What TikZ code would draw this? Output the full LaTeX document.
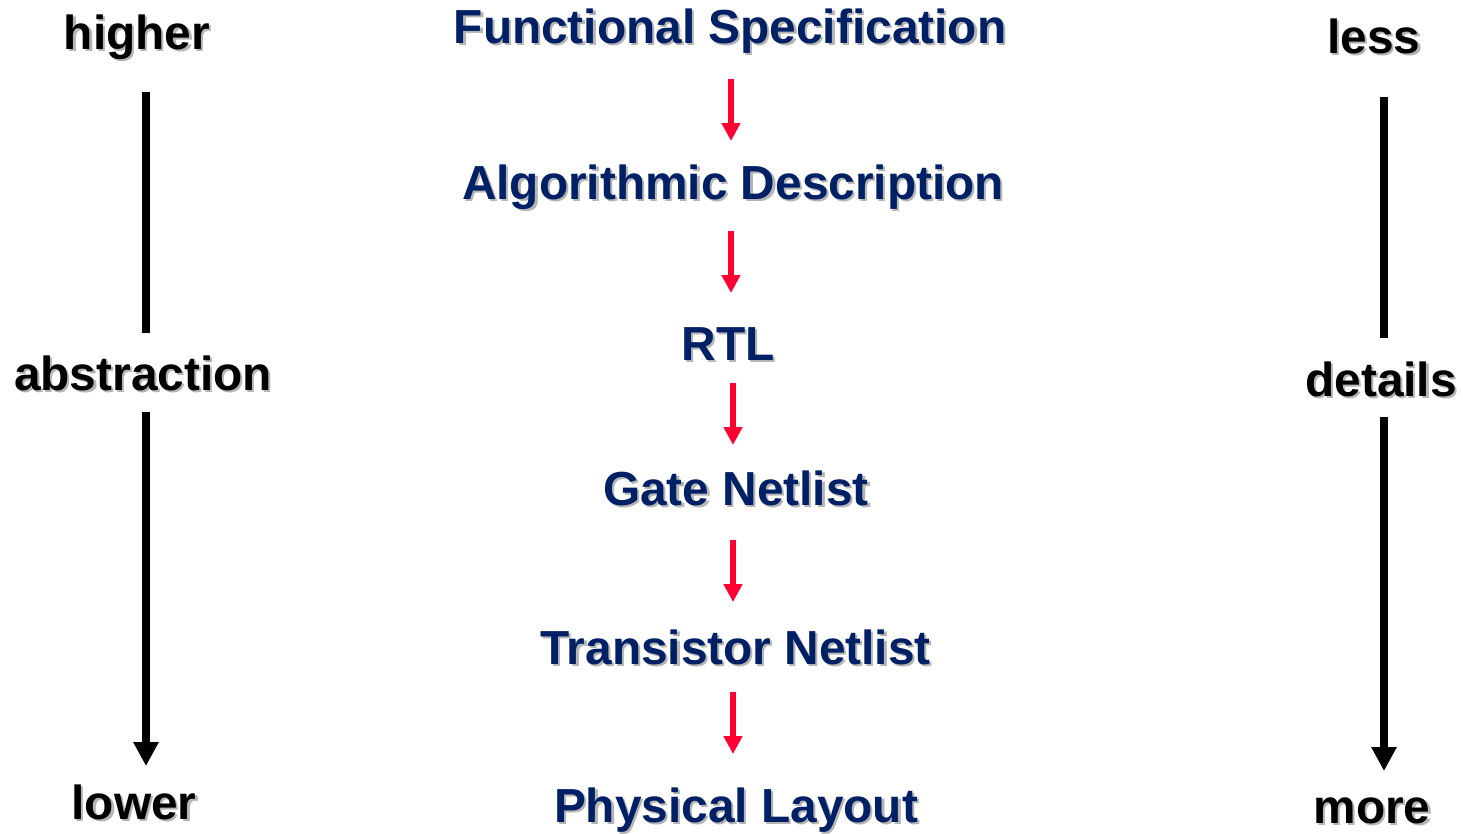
\documentclass[tikz,border=0pt]{standalone}
\usepackage{fontspec}
\setmainfont{Liberation Sans}
\usetikzlibrary{arrows.meta}
\definecolor{flowblue}{RGB}{0,32,102}
\definecolor{flowred}{RGB}{255,0,51}
\definecolor{shadowgray}{RGB}{180,180,180}
% text with a soft grey drop shadow behind it
\newcommand{\shadowed}[1]{\makebox[0pt][l]{\hspace{2.2pt}\raisebox{-2.2pt}{\color{shadowgray}#1}}#1}
\tikzset{
  level/.style={anchor=base, inner sep=0pt, text=flowblue,
    font=\fontsize{47.8}{50}\selectfont\bfseries},
  axislabel/.style={anchor=base, inner sep=0pt, text=black,
    font=\fontsize{47.8}{50}\selectfont\bfseries},
  flowarrow/.style={draw=flowred, line width=6pt,
    -{Triangle[width=18pt,length=18pt]}},
  axisline/.style={draw=black, line width=7.5pt},
  axisarrow/.style={axisline, -{Triangle[width=24pt,length=24pt]}}
}
\begin{document}
\begin{tikzpicture}[x=1pt,y=-1pt]
\useasboundingbox[fill=white] (0,0) rectangle (1463,833);

% design levels
\node[level] (fs) at (730,43)  {\shadowed{Functional Specification}};
\node[level] (ad) at (733,199) {\shadowed{Algorithmic Description}};
\node[level] (rtl) at (728,360) {\shadowed{RTL}};
\node[level] (gn) at (736,505) {\shadowed{Gate Netlist}};
\node[level] (tn) at (735.5,664) {\shadowed{Transistor Netlist}};
\node[level] (pl) at (736,822) {\shadowed{Physical Layout}};

% flow arrows between levels
\coordinate (f1a) at (731,79);  \coordinate (f1b) at (731,141);
\coordinate (f2a) at (731,231); \coordinate (f2b) at (731,293);
\coordinate (f3a) at (733,383); \coordinate (f3b) at (733,445);
\coordinate (f4a) at (733,540); \coordinate (f4b) at (733,602);
\coordinate (f5a) at (733,692); \coordinate (f5b) at (733,754);
\draw[flowarrow] (f1a) -- (f1b);
\draw[flowarrow] (f2a) -- (f2b);
\draw[flowarrow] (f3a) -- (f3b);
\draw[flowarrow] (f4a) -- (f4b);
\draw[flowarrow] (f5a) -- (f5b);

% abstraction axis
\node[axislabel] (higher) at (137,49) {\shadowed{higher}};
\node[axislabel] (abstr) at (143,390) {\shadowed{abstraction}};
\node[axislabel] (lower) at (134,819) {\shadowed{lower}};
\coordinate (la1) at (146,92);  \coordinate (la2) at (146,333);
\coordinate (la3) at (146,412); \coordinate (la4) at (146,766);
\draw[axisline] (la1) -- (la2);
\draw[axisarrow] (la3) -- (la4);

% details axis
\node[axislabel] (less) at (1374,53) {\shadowed{less}};
\node[axislabel] (details) at (1381,396) {\shadowed{details}};
\node[axislabel] (more) at (1372,823) {\shadowed{more}};
\coordinate (ra1) at (1384,97);  \coordinate (ra2) at (1384,338);
\coordinate (ra3) at (1384,417); \coordinate (ra4) at (1384,771);
\draw[axisline] (ra1) -- (ra2);
\draw[axisarrow] (ra3) -- (ra4);
\end{tikzpicture}
\end{document}
